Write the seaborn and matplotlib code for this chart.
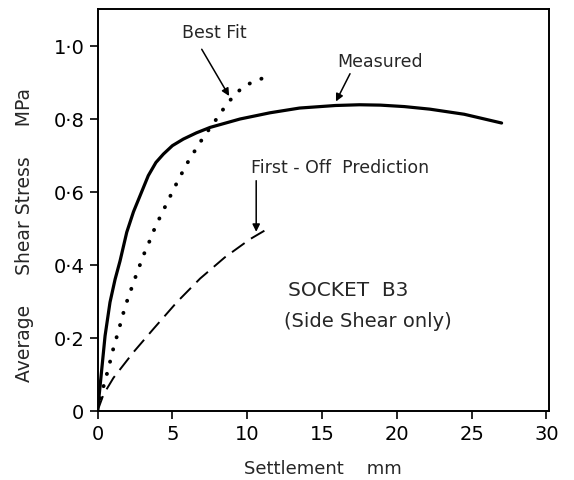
import numpy as np
import pandas as pd
import seaborn as sns
import matplotlib.pyplot as plt

# valeurs (tassement en mm, contrainte en MPa)
measured_x = [0.0, 0.1, 0.28, 0.5, 0.83, 1.17, 1.5, 1.95, 2.4, 2.84, 3.39, 3.9, 4.4, 5.0, 5.73,
              6.6, 7.52, 9.52, 11.52, 13.5, 15.9, 17.5, 18.9, 20.5, 22.2, 24.5, 27.0]
measured_y = [0.0, 0.04, 0.114, 0.205, 0.297, 0.36, 0.41, 0.489, 0.545, 0.589, 0.644, 0.68, 0.703, 0.726, 0.744,
              0.761, 0.776, 0.799, 0.816, 0.829, 0.836, 0.838, 0.837, 0.833, 0.826, 0.812, 0.788]

bestfit_x = [0.0, 0.5, 0.72, 0.9, 1.12, 1.39, 1.62, 1.88, 2.17, 2.46, 2.79, 3.13, 3.51, 3.84,
             4.24, 4.66, 5.11, 5.51, 6.02, 6.53, 7.07, 7.63, 8.14, 8.63, 9.2, 9.72, 10.4, 11.06, 11.74]
bestfit_y = [0.0, 0.084, 0.114, 0.146, 0.181, 0.217, 0.253, 0.29, 0.324, 0.358, 0.395, 0.432, 0.468, 0.502,
             0.536, 0.571, 0.609, 0.641, 0.68, 0.714, 0.749, 0.781, 0.81, 0.84, 0.866, 0.887, 0.901, 0.911, 0.916]

firstoff_x = [0.0, 0.4, 1.06, 2.39, 3.73, 5.29, 6.85, 8.5, 10.19, 11.52]
firstoff_y = [0.0, 0.045, 0.09, 0.16, 0.224, 0.297, 0.362, 0.42, 0.47, 0.502]

xticks = [0, 5, 10, 15, 20, 25, 30]
yticks = [0, 0.2, 0.4, 0.6, 0.8, 1.0]
ytick_labels = ["0", "0·2", "0·4", "0·6", "0·8", "1·0"]

# ------------------------

sns.set_style("ticks")
plt.rcParams['font.family'] = ['DejaVu Sans']

df_meas = pd.DataFrame({"x": measured_x, "y": measured_y})
df_best = pd.DataFrame({"x": bestfit_x, "y": bestfit_y})
df_first = pd.DataFrame({"x": firstoff_x, "y": firstoff_y})

fig = plt.figure(figsize=(5.74, 4.81), dpi=100)
ax = fig.add_axes([0.17, 0.144, 0.786, 0.835])

sns.lineplot(data=df_meas, x="x", y="y", ax=ax, color="black", lw=2.3, sort=False)
sns.lineplot(data=df_best, x="x", y="y", ax=ax, color="black", lw=2.8,
             linestyle=(0, (0.05, 3.2)), dash_capstyle="round", sort=False)
sns.lineplot(data=df_first, x="x", y="y", ax=ax, color="black", lw=1.4,
             linestyle=(0, (8, 4)), sort=False)

ax.set_xlim(0, 30.15)
ax.set_ylim(0, 1.1)
ax.set_xticks(xticks)
ax.set_xticklabels([str(t) for t in xticks])
ax.set_yticks(yticks)
ax.set_yticklabels(ytick_labels)
ax.tick_params(direction="out", length=6, width=1.2, labelsize=14, colors="black")
for s in ax.spines.values():
    s.set_linewidth(1.4)
    s.set_color("black")

ax.set_xlabel("Settlement    mm", fontsize=13)
ax.set_ylabel("Average     Shear Stress     MPa", fontsize=13.5)
ax.xaxis.set_label_coords(0.5, -0.12)
ax.yaxis.set_label_coords(-0.14, 0.44)

arrow = dict(arrowstyle="-|>", color="black", lw=1.1, mutation_scale=11,
             shrinkA=0, shrinkB=0)
ax.text(7.8, 1.037, "Best Fit", fontsize=12.5, ha="center", va="center")
ax.annotate("", xy=(8.79, 0.862), xytext=(6.96, 0.99), arrowprops=arrow)
ax.text(18.9, 0.959, "Measured", fontsize=12.5, ha="center", va="center")
ax.annotate("", xy=(15.93, 0.847), xytext=(16.87, 0.923), arrowprops=arrow)
ax.text(16.2, 0.667, "First - Off  Prediction", fontsize=12.5, ha="center", va="center")
ax.annotate("", xy=(10.6, 0.49), xytext=(10.6, 0.63), arrowprops=arrow)

ax.text(12.7, 0.333, "SOCKET  B3", fontsize=14.5, ha="left", va="center")
ax.text(12.45, 0.247, "(Side Shear only)", fontsize=14, ha="left", va="center")

fig.savefig("out.png", dpi=100)
